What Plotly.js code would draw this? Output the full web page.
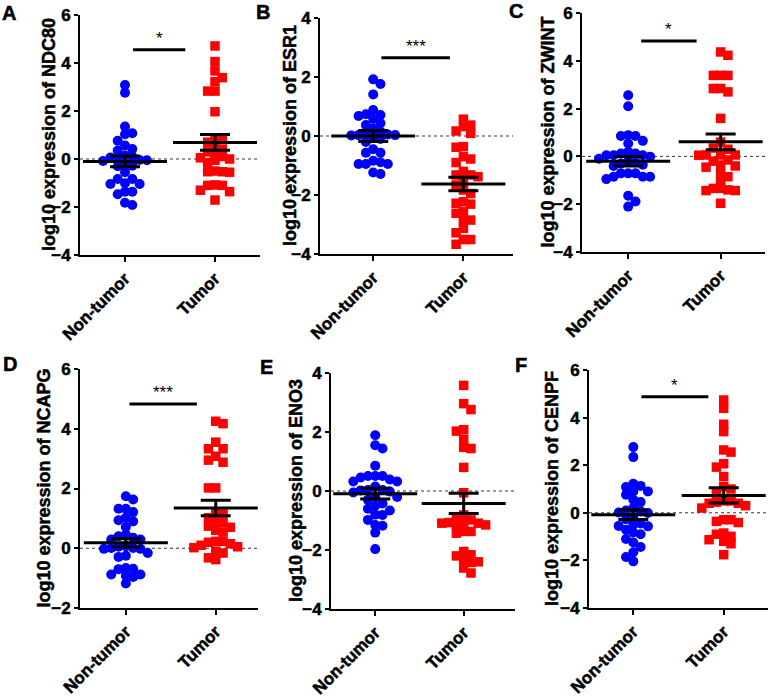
<!DOCTYPE html>
<html>
<head>
<meta charset="utf-8">
<script src="https://cdn.plot.ly/plotly-3.0.1.min.js"></script>
<style>
  body { margin: 0; background: #fff; }
  #chart { width: 770px; height: 700px; }
  #chart .xaxislayer-above text, #chart .yaxislayer-above text { stroke: #000; stroke-width: 0.5px; }
</style>
</head>
<body>
<div id="chart"></div>
<script>
// ---- data ----
const groups = ['Non-tumor', 'Tumor'];
const panelLetters = ['A', 'B', 'C', 'D', 'E', 'F'];
const genes = ['NDC80', 'ESR1', 'ZWINT', 'NCAPG', 'ENO3', 'CENPF'];

const nonTumorNDC80 = [3.08, 2.76, 1.35, 1.07, 1.03, 0.76, 0.56, 0.42, 0.35, 0.06, 0.1, 0.02, 0.15, -0.05, -0.04,
  -0.08, -0.28, -0.2, -0.3, -0.55, -0.83, -0.83, -1.04, -1.01, -1.04, -1.36, -1.36, -1.47, -1.92, -1.82];
const tumorNDC80 = [4.71, 4.06, 3.67, 3.39, 3.22, 2.83, 2.83, 1.97, 0.86, 0.8, 0.7, 0.55, 0.3, 0.1, 0.05, 0.4,
  0.0, -0.05, -0.15, 0.25, -0.5, -0.53, -0.55, -0.53, -1.08, -1.1, -1.1, -1.3, -1.36, -1.71];

const nonTumorESR1 = [1.76, 1.92, 1.41, 0.88, 0.74, 0.68, 0.71, 0.58, 0.43, 0.37, 0.03, 0.09, 0.03, 0.15, 0.02,
  -0.02, 0.05, -0.2, -0.1, -0.57, -0.57, -0.45, -0.84, -0.95, -0.95, -0.95, -0.89, -1.29, -1.24, 0.25];
const tumorESR1 = [0.57, 0.32, 0.37, 0.17, 0.09, -0.36, -0.38, -0.7, -0.78, -0.9, -1.32, -1.32, -1.38, -1.58,
  -1.66, -1.83, -1.95, -2.23, -2.31, -2.28, -2.57, -2.62, -2.85, -2.85, -3.13, -3.28, -3.51, -3.51, -3.67, -1.2];

const nonTumorZWINT = [2.56, 2.1, 0.85, 0.89, 0.85, 0.65, 0.54, 0.05, 0.12, 0.05, 0.12, 0.19, -0.01, 0.05, -0.3,
  -0.2, -0.25, -0.1, -0.71, -0.85, -0.71, -0.95, -0.85, -0.85, -0.71, -1.65, -1.89, -2.1, -0.35, -0.4];
const tumorZWINT = [4.37, 4.23, 3.39, 3.39, 3.39, 2.84, 2.7, 2.84, 1.59, 0.6, 0.35, 0.06, 0.3, 0.06, 0.06, 0.05,
  -0.15, -0.36, -0.2, -0.4, -0.45, -0.85, -0.71, -1.02, -1.34, -1.4, -1.34, -1.43, -1.43, -1.96];

const nonTumorNCAPG = [1.74, 1.63, 1.32, 1.32, 1.21, 1.02, 0.94, 0.9, 0.71, 0.4, 0.35, 0.46, 0.29, 0.29, 0.01,
  0.07, -0.02, 0.05, -0.02, 0.01, -0.29, -0.16, -0.25, -0.66, -0.7, -0.69, -0.92, -0.88, -0.88, -0.96, -1.18];
const tumorNCAPG = [4.25, 4.17, 3.55, 3.33, 3.33, 3.08, 2.95, 2.88, 2.02, 2.02, 1.21, 1.15, 1.02, 0.85, 0.9,
  0.74, 0.54, 0.6, 0.7, 0.23, 0.23, 0.2, 0.1, -0.16, 0.02, -0.1, -0.38, -0.32, 0.05, 0.15];

const nonTumorENO3 = [1.89, 1.44, 1.55, 0.86, 0.51, 0.39, 0.51, 0.32, 0.46, 0.32, 0.51, 0.03, -0.05, 0.15, 0.02,
  -0.19, -0.02, 0.03, -0.42, -0.3, -0.2, -0.5, -0.66, -0.6, -0.8, -0.81, -0.98, -1.18, -1.15, -1.41, -1.97];
const tumorENO3 = [3.58, 2.96, 2.76, 2.08, 2.03, 1.75, 1.44, 1.48, 0.8, -0.06, -0.87, -0.81, -1.09, -1.07, -1.07,
  -0.98, -1.15, -1.09, -1.15, -1.37, -1.43, -1.37, -2.33, -2.42, -2.16, -2.05, -2.2, -2.4, -2.61, -2.78];

const nonTumorCENPF = [2.76, 2.34, 1.22, 1.13, 1.08, 0.9, 0.9, 0.76, 0.2, -0.18, 0.01, -0.01, 0.1, 0.06, -0.27,
  -0.5, -0.83, -0.71, -0.57, -0.9, -0.55, -1.1, -1.44, -1.66, -1.86, -2.04, -0.45, 0.45, -1.25, 0.55];
const tumorCENPF = [4.74, 4.39, 3.72, 3.41, 2.64, 2.55, 2.06, 1.92, 1.52, 1.0, 1.1, 0.8, 0.5, 0.4, 0.5, 0.45,
  0.3, 0.2, 0.4, -0.29, -0.36, -0.29, -0.9, -0.85, -1.13, -0.99, -1.2, -1.76, -0.41, -1.3];

const nonTumorValues = [nonTumorNDC80, nonTumorESR1, nonTumorZWINT, nonTumorNCAPG, nonTumorENO3, nonTumorCENPF];
const tumorValues = [tumorNDC80, tumorESR1, tumorZWINT, tumorNCAPG, tumorENO3, tumorCENPF];

// mean +/- SEM as drawn
const meanNonTumor = [-0.1, 0.0, -0.2, 0.18, -0.09, -0.08];
const semNonTumor = [0.22, 0.19, 0.2, 0.14, 0.18, 0.2];
const meanTumor = [0.69, -1.63, 0.61, 1.35, -0.42, 0.73];
const semTumor = [0.33, 0.23, 0.33, 0.26, 0.34, 0.32];

// significance brackets
const sigLabels = ['*', '***', '*', '***', '', '*'];
const sigLevel = [4.55, 2.65, 4.83, 4.83, null, 4.88];
const sigFrom = [0.09, 0.09, 0.14, 0.04, null, 0.09];
const sigTo = [0.67, 0.85, 0.74, 0.79, null, 0.83];

const yRanges = [[-4, 6], [-4, 4], [-4, 6], [-2, 6], [-4, 4], [-4, 6]];

// ---- layout frames (pixels in the 770x700 page) ----
const W = 770, H = 700;
const frames = [
  { l: 80, r: 260, t: 15, b: 255, xr: [-0.5, 1.5], titleX: 49, letter: [9, 13] },
  { l: 320, r: 513, t: 18, b: 254, xr: [-0.59, 1.55], titleX: 290, letter: [263, 12] },
  { l: 582, r: 765, t: 13, b: 252, xr: [-0.5, 1.48], titleX: 547, letter: [516, 11] },
  { l: 80, r: 258, t: 369, b: 608, xr: [-0.51, 1.47], titleX: 43, letter: [10, 364] },
  { l: 331, r: 515, t: 373, b: 609, xr: [-0.5, 1.58], titleX: 296, letter: [266, 367] },
  { l: 589, r: 768, t: 370, b: 608, xr: [-0.49, 1.49], titleX: 552, letter: [521, 365] },
];

const FONT = 'Liberation Sans, Arial, sans-serif';
const boldFont = (size) => ({ family: FONT, size: size, weight: 700, color: '#000' });

// simple beeswarm: spread overlapping points sideways in fixed columns
function swarm(values, center, pxX, pxY) {
  const step = 7.3, minD = 7.2;
  const placed = [];
  const xs = new Array(values.length);
  const order = values.map((v, i) => i).sort((a, b) => values[b] - values[a]);
  let flip = false;
  order.forEach(i => {
    const yp = values[i] * pxY;
    for (let k = 0; k < 30; k++) {
      const cands = k === 0 ? [0] : (flip ? [-k, k] : [k, -k]);
      const hit = cands.find(c => placed.every(p => Math.hypot(p.x - c * step, p.y - yp) >= minD));
      if (hit !== undefined) {
        placed.push({ x: hit * step, y: yp });
        xs[i] = center + hit * step / pxX;
        if (hit !== 0) flip = !flip;
        break;
      }
    }
  });
  return xs;
}

const traces = [];
const shapes = [];
const annotations = [];
const layout = {
  width: W, height: H,
  margin: { l: 0, r: 0, t: 0, b: 0 },
  paper_bgcolor: '#fff',
  plot_bgcolor: '#fff',
  showlegend: false,
  font: { family: FONT, color: '#000' },
};

frames.forEach((f, i) => {
  const n = i === 0 ? '' : String(i + 1);
  const xa = 'x' + n, ya = 'y' + n;
  const pxX = (f.r - f.l) / (f.xr[1] - f.xr[0]);
  const pxY = (f.b - f.t) / (yRanges[i][1] - yRanges[i][0]);

  layout['xaxis' + n] = {
    domain: [f.l / W, f.r / W],
    range: f.xr,
    anchor: ya,
    tickvals: [0, 1],
    ticktext: groups,
    tickangle: -45,
    tickfont: boldFont(17),
    showline: true, linewidth: 2, linecolor: '#000',
    ticks: 'outside', ticklen: 5, tickwidth: 2, tickcolor: '#000',
    showgrid: false, zeroline: false, fixedrange: true,
  };
  layout['yaxis' + n] = {
    domain: [1 - f.b / H, 1 - f.t / H],
    range: yRanges[i],
    anchor: xa,
    tick0: 0, dtick: 2,
    tickfont: boldFont(17),
    showline: true, linewidth: 2, linecolor: '#000',
    ticks: 'outside', ticklen: 4, tickwidth: 2, tickcolor: '#000',
    showgrid: false, zeroline: false, fixedrange: true,
  };

  // dotted zero line
  shapes.push({
    type: 'line', xref: xa + ' domain', yref: ya,
    x0: 0, x1: 1, y0: 0, y1: 0,
    line: { color: '#333', width: 1, dash: 'dot' },
    layer: 'below',
  });

  traces.push({
    type: 'scatter', mode: 'markers', xaxis: xa, yaxis: ya,
    x: swarm(nonTumorValues[i], 0, pxX, pxY), y: nonTumorValues[i],
    marker: { symbol: 'circle', size: 10, color: '#0000ff' },
    hoverinfo: 'y',
  });
  traces.push({
    type: 'scatter', mode: 'markers', xaxis: xa, yaxis: ya,
    x: swarm(tumorValues[i], 1, pxX, pxY), y: tumorValues[i],
    marker: { symbol: 'square', size: 9.5, color: '#ff0000' },
    hoverinfo: 'y',
  });
  // mean +/- SEM
  traces.push({
    type: 'scatter', mode: 'markers', xaxis: xa, yaxis: ya,
    x: [0, 1], y: [meanNonTumor[i], meanTumor[i]],
    marker: { symbol: 'line-ew-open', size: 60, color: '#000', line: { width: 3, color: '#000' } },
    error_y: { type: 'data', array: [semNonTumor[i], semTumor[i]], width: 15, thickness: 3, color: '#000' },
    hoverinfo: 'skip',
  });

  // significance bar
  if (sigLevel[i] !== null) {
    shapes.push({
      type: 'line', xref: xa, yref: ya,
      x0: sigFrom[i], x1: sigTo[i], y0: sigLevel[i], y1: sigLevel[i],
      line: { color: '#000', width: 3 },
    });
    annotations.push({
      xref: xa, yref: ya, x: (sigFrom[i] + sigTo[i]) / 2, y: sigLevel[i],
      text: sigLabels[i], showarrow: false, yanchor: 'bottom', yshift: 0,
      font: { family: FONT, size: 17, color: '#000' },
    });
  }

  // y axis title
  annotations.push({
    xref: 'paper', yref: 'paper',
    x: f.titleX / W, y: 1 - (f.t + f.b) / 2 / H,
    text: 'log10 expression of ' + genes[i],
    textangle: -90, showarrow: false, xanchor: 'center', yanchor: 'middle',
    font: boldFont(18),
  });
  // panel letter
  annotations.push({
    xref: 'paper', yref: 'paper',
    x: f.letter[0] / W, y: 1 - f.letter[1] / H,
    text: panelLetters[i], showarrow: false, xanchor: 'center', yanchor: 'middle',
    font: boldFont(20),
  });
});

layout.shapes = shapes;
layout.annotations = annotations;

Plotly.newPlot('chart', traces, layout, { displayModeBar: false, staticPlot: true }).then(gd => {
  // give the bold titles and letters the heavier look of the original
  gd.querySelectorAll('.annotation-text').forEach(t => {
    if (!t.textContent.includes('*')) {
      t.style.stroke = '#000';
      t.style.strokeWidth = '0.5px';
    }
  });
});
</script>
</body>
</html>
